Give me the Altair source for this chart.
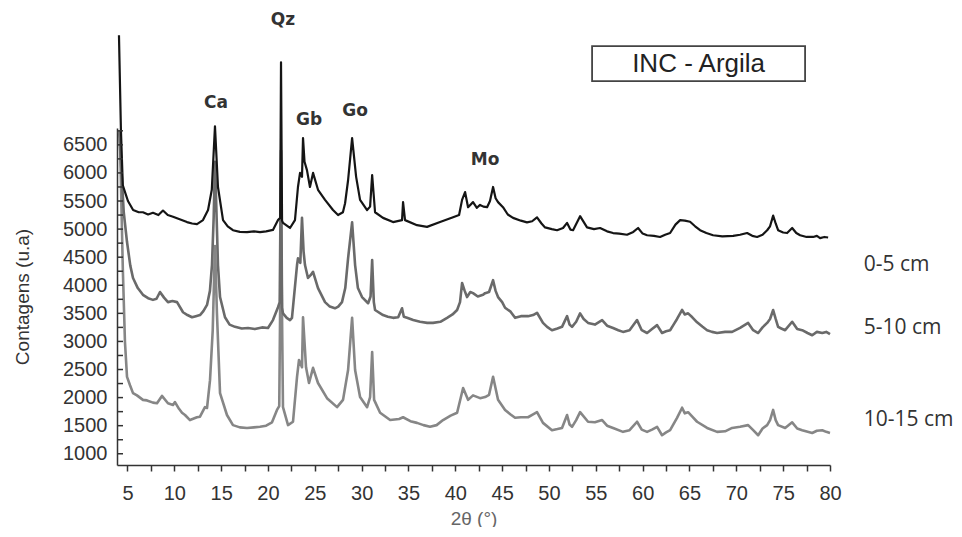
import altair as alt
import pandas as pd

# ---------------- data (2θ in degrees, counts in u.a.) ----------------
SERIES = ["0-5 cm", "5-10 cm", "10-15 cm"]
COLORS = ["#151515", "#6a6a6a", "#868686"]

trace_0_5 = [
    (4.09, 8450), (4.3, 6760), (4.5, 5780), (4.85, 5600), (5.05, 5500), (5.6, 5340),
    (6.2, 5300), (6.65, 5300), (7.2, 5260), (7.72, 5290), (8.3, 5250), (8.79, 5330),
    (9.3, 5250), (9.86, 5220), (10.5, 5180), (11.35, 5125), (11.9, 5100), (12.42, 5090),
    (13.06, 5160), (13.6, 5340), (14.0, 5700), (14.34, 6830), (14.66, 5750), (15.2, 5160),
    (15.7, 5050), (16.26, 4980), (17.0, 4950), (17.76, 4945), (18.5, 4960), (19.15, 4945),
    (19.8, 4960), (20.53, 4985), (21.07, 5160), (21.3, 5200), (21.39, 7970), (21.5, 5150),
    (21.6, 5110), (22.35, 5020), (22.88, 5160), (23.2, 5750), (23.42, 6000), (23.63, 5930),
    (23.74, 6620), (23.9, 6200), (24.16, 6050), (24.48, 5750), (24.81, 6000), (25.34, 5700),
    (26.09, 5520), (26.94, 5340), (27.48, 5250), (28.0, 5300), (28.23, 5460), (28.55, 5870),
    (28.98, 6620), (29.41, 5930), (29.83, 5520), (30.58, 5340), (30.9, 5400), (31.12, 5960),
    (31.43, 5300), (32.28, 5200), (33.35, 5125), (34.31, 5160), (34.42, 5480), (34.63, 5160),
    (35.91, 5070), (36.98, 5040), (38.37, 5125), (39.76, 5210), (40.4, 5250), (40.72, 5520),
    (41.04, 5660), (41.36, 5390), (41.89, 5480), (42.3, 5380), (42.64, 5430), (43.0, 5400),
    (43.39, 5390), (43.7, 5500), (44.03, 5750), (44.3, 5550), (44.56, 5480), (45.09, 5390),
    (45.6, 5260), (46.16, 5200), (47.0, 5150), (47.65, 5120), (48.2, 5140), (48.72, 5210),
    (49.2, 5100), (49.58, 5030), (50.3, 5000), (50.86, 4980), (51.5, 5020), (51.93, 5110),
    (52.3, 4990), (52.57, 4980), (53.32, 5230), (54.06, 5030), (54.8, 5000), (55.45, 5020),
    (56.2, 4960), (56.84, 4930), (57.5, 4920), (58.33, 4900), (59.0, 4950), (59.51, 5020),
    (60.0, 4920), (60.47, 4890), (61.2, 4880), (61.86, 4860), (62.4, 4900), (62.93, 4930),
    (63.5, 5080), (64.0, 5160), (64.5, 5150), (65.06, 5130), (65.6, 5050), (66.13, 4980),
    (66.8, 4930), (67.52, 4890), (68.5, 4870), (69.66, 4880), (70.4, 4900), (71.15, 4930),
    (71.7, 4880), (72.22, 4860), (72.8, 4900), (73.29, 4980), (73.6, 5050), (73.93, 5240),
    (74.2, 5100), (74.46, 4980), (75.0, 4940), (75.42, 4930), (75.96, 5020), (76.4, 4930),
    (76.81, 4890), (77.5, 4860), (78.2, 4860), (78.6, 4880), (78.94, 4840), (79.4, 4860),
    (79.8, 4850),
]

trace_5_10 = [
    (4.1, 6750), (4.3, 6200), (4.6, 5300), (4.95, 4770), (5.3, 4350), (5.59, 4130),
    (6.1, 3950), (6.65, 3830), (7.2, 3770), (7.72, 3740), (8.1, 3760), (8.47, 3880),
    (8.9, 3780), (9.32, 3700), (9.8, 3720), (10.29, 3700), (10.93, 3520), (11.4, 3470),
    (11.89, 3430), (12.3, 3450), (12.74, 3470), (13.1, 3540), (13.49, 3650), (13.8, 3900),
    (14.02, 4360), (14.2, 5200), (14.34, 6200), (14.5, 5300), (14.66, 4360), (14.88, 3790),
    (15.41, 3430), (15.9, 3300), (16.48, 3260), (17.2, 3230), (17.87, 3240), (18.6, 3220),
    (19.36, 3250), (20.0, 3240), (20.53, 3380), (21.07, 3610), (21.25, 3700), (21.39, 6400),
    (21.5, 3600), (21.6, 3500), (22.0, 3420), (22.35, 3380), (22.56, 3420), (23.1, 4360),
    (23.2, 4480), (23.45, 4400), (23.63, 5200), (23.8, 4600), (23.95, 4360), (24.27, 4130),
    (24.55, 4180), (24.81, 4240), (25.34, 3950), (26.09, 3700), (26.6, 3620), (27.15, 3590),
    (27.5, 3620), (27.9, 3700), (28.25, 3950), (28.55, 4480), (28.98, 5120), (29.3, 4360),
    (29.6, 3950), (30.04, 3790), (30.69, 3680), (30.95, 3800), (31.12, 4450), (31.3, 3700),
    (31.43, 3560), (32.28, 3470), (32.8, 3440), (33.35, 3420), (33.9, 3430), (34.31, 3590),
    (34.5, 3440), (34.85, 3420), (35.5, 3380), (36.23, 3350), (37.0, 3330), (37.62, 3330),
    (38.4, 3350), (39.12, 3420), (39.7, 3480), (40.19, 3560), (40.5, 3700), (40.72, 4040),
    (41.0, 3900), (41.25, 3790), (41.6, 3880), (41.89, 3860), (42.4, 3800), (42.96, 3830),
    (43.18, 3860), (43.6, 3880), (44.03, 4090), (44.3, 3900), (44.56, 3790), (45.0, 3700),
    (45.31, 3600), (45.9, 3530), (46.38, 3420), (47.0, 3450), (47.76, 3450), (48.3, 3470),
    (48.72, 3510), (49.36, 3330), (49.8, 3260), (50.32, 3200), (50.9, 3230), (51.39, 3260),
    (51.93, 3450), (52.2, 3300), (52.46, 3260), (52.9, 3350), (53.32, 3500), (53.7, 3400),
    (54.17, 3330), (54.9, 3300), (55.67, 3380), (56.2, 3280), (56.84, 3240), (57.4, 3200),
    (57.9, 3170), (58.6, 3200), (59.4, 3380), (59.9, 3200), (60.47, 3150), (61.0, 3220),
    (61.54, 3290), (62.07, 3150), (62.5, 3180), (62.93, 3200), (63.3, 3300), (63.67, 3400),
    (64.21, 3560), (64.5, 3480), (64.85, 3500), (65.3, 3430), (65.81, 3340), (66.4, 3260),
    (66.88, 3200), (67.4, 3170), (67.95, 3150), (68.8, 3170), (69.55, 3170), (70.4, 3240),
    (71.26, 3330), (71.8, 3200), (72.33, 3150), (72.8, 3250), (73.29, 3330), (73.6, 3400),
    (73.93, 3560), (74.2, 3400), (74.46, 3260), (74.8, 3230), (75.21, 3200), (75.96, 3350),
    (76.5, 3220), (77.03, 3200), (77.6, 3150), (78.1, 3110), (78.6, 3170), (79.17, 3150),
    (79.6, 3170), (80.0, 3130),
]

trace_10_15 = [
    (4.2, 6600), (4.5, 4300), (4.73, 2990), (4.95, 2370), (5.27, 2220), (5.59, 2080),
    (6.01, 2040), (6.65, 1960), (7.08, 1950), (7.72, 1910), (8.15, 1900), (8.68, 2030),
    (9.32, 1900), (9.86, 1870), (10.07, 1920), (10.5, 1800), (10.82, 1730), (11.14, 1690),
    (11.67, 1600), (12.42, 1650), (12.74, 1660), (13.27, 1830), (13.49, 1815), (13.81, 2310),
    (14.1, 3200), (14.34, 4700), (14.55, 3500), (14.88, 2080), (15.62, 1690), (16.26, 1510),
    (17.0, 1470), (17.76, 1460), (18.5, 1470), (19.15, 1480), (19.8, 1500), (20.43, 1560),
    (20.96, 1780), (21.2, 1850), (21.39, 5200), (21.6, 1830), (22.14, 1510), (22.67, 1570),
    (23.1, 2370), (23.31, 2670), (23.63, 2540), (23.74, 3430), (24.06, 2540), (24.38, 2260),
    (24.81, 2530), (25.34, 2260), (26.3, 1990), (27.37, 1830), (28.01, 1960), (28.55, 2490),
    (28.98, 3420), (29.3, 2490), (29.83, 2010), (30.58, 1830), (30.9, 2010), (31.12, 2810),
    (31.33, 1960), (31.97, 1730), (33.04, 1600), (34.0, 1620), (34.42, 1650), (35.2, 1580),
    (35.91, 1550), (36.6, 1510), (37.3, 1480), (38.0, 1510), (38.69, 1600), (39.5, 1680),
    (40.19, 1730), (40.83, 2170), (41.36, 1960), (41.89, 2040), (42.64, 1990), (43.18, 2010),
    (43.6, 2050), (44.03, 2370), (44.56, 1960), (45.31, 1780), (45.9, 1700), (46.38, 1640),
    (47.0, 1650), (47.76, 1650), (48.3, 1700), (48.72, 1740), (49.36, 1550), (50.32, 1420),
    (50.9, 1440), (51.39, 1460), (51.93, 1690), (52.2, 1520), (52.46, 1480), (52.9, 1600),
    (53.32, 1740), (54.17, 1570), (54.9, 1560), (55.67, 1600), (56.2, 1500), (56.84, 1460),
    (57.9, 1390), (58.6, 1420), (59.4, 1570), (59.9, 1430), (60.47, 1390), (61.0, 1430),
    (61.54, 1480), (62.07, 1330), (62.5, 1380), (62.93, 1420), (63.67, 1640), (64.21, 1820),
    (64.5, 1720), (64.85, 1740), (65.3, 1660), (65.81, 1570), (66.88, 1460), (67.95, 1390),
    (68.8, 1400), (69.55, 1460), (70.4, 1480), (71.26, 1510), (71.8, 1420), (72.33, 1330),
    (72.8, 1450), (73.29, 1510), (73.6, 1600), (73.93, 1780), (74.2, 1600), (74.46, 1510),
    (75.21, 1460), (75.96, 1560), (76.5, 1450), (77.03, 1420), (78.1, 1370), (78.6, 1410),
    (79.17, 1420), (79.6, 1390), (80.0, 1370),
]

x_tick_values = [5, 7.5, 10, 12.5, 15, 17.5, 20, 22.5, 25, 27.5, 30, 32.5, 35, 37.5,
                 40, 42.5, 45, 47.5, 50, 52.5, 55, 57.5, 60, 62.5, 65, 67.5, 70, 72.5,
                 75, 77.5, 80]
y_label_values = [1000, 1500, 2000, 2500, 3000, 3500, 4000, 4500, 5000, 5500, 6000, 6500]
y_minor_values = [1000, 1250, 1500, 1750, 2000, 2250, 2500, 2750, 3000, 3250, 3500, 3750,
                  4000, 4250, 4500, 4750, 5000, 5250, 5500, 5750, 6000, 6250, 6500, 6750]

peak_names = ["Ca", "Qz", "Gb", "Go", "Mo"]
peak_theta = [14.45, 21.6, 24.38, 29.3, 43.18]
peak_counts = [7244, 8721, 6941, 7101, 6229]

label_theta = [83.6, 83.6, 83.6]
label_counts = [4360, 3239, 1601]

box_title = "INC - Argila"
box_theta = [54.6, 77.34]
box_counts = [7635, 8258]
box_text_pos = (65.97, 7946)

# ---------------- chart ----------------
FONT = "Liberation Sans"

x_enc = alt.X(
    "theta:Q",
    scale=alt.Scale(domain=[3.88, 80], nice=False, zero=False),
    axis=alt.Axis(
        values=x_tick_values, format="d",
        labelExpr="datum.value % 5 === 0 ? datum.label : ''",
        labelFlush=False, labelOverlap=False,
        title="2θ (°)", grid=False,
        tickSize=6, tickWidth=1.5, tickColor="#333",
        domainColor="#333", domainWidth=1.5,
        labelFont=FONT, labelFontSize=20, labelColor="#333", labelPadding=12,
        titleFont=FONT, titleFontSize=19, titleFontWeight="normal", titleColor="#666",
        titlePadding=6,
    ),
)
y_enc = alt.Y(
    "counts:Q",
    scale=alt.Scale(domain=[800, 6800], nice=False, zero=False),
    axis=alt.Axis(
        values=y_label_values, format="d", ticks=False, grid=False,
        labelFlush=False, labelOverlap=False,
        title="Contagens (u.a)",
        domainColor="#333", domainWidth=1.5,
        labelFont=FONT, labelFontSize=20, labelColor="#333", labelPadding=10,
        titleFont=FONT, titleFontSize=19, titleFontWeight="normal", titleColor="#333",
        titlePadding=30,
    ),
)

layers = []
traces = [trace_0_5, trace_5_10, trace_10_15]
widths = [2.2, 2.6, 2.6]
for name, tr, col, w in reversed(list(zip(SERIES, traces, COLORS, widths))):
    d = pd.DataFrame(tr, columns=["theta", "counts"])
    layers.append(
        alt.Chart(d).mark_line(color=col, strokeWidth=w, strokeJoin="round").encode(x=x_enc, y=y_enc)
    )

ticks_df = pd.DataFrame({"counts": y_minor_values})
y_ticks = alt.Chart(ticks_df).mark_rule(color="#333", strokeWidth=1.5).encode(
    y=y_enc, x=alt.value(0), x2=alt.value(6)
)

peaks_df = pd.DataFrame({"theta": peak_theta, "counts": peak_counts, "label": peak_names})
peaks = alt.Chart(peaks_df).mark_text(
    font="DejaVu Sans", fontSize=17, fontWeight="bold", color="#333",
    align="center", baseline="middle",
).encode(x=x_enc, y=y_enc, text="label:N")

lab_df = pd.DataFrame({"theta": label_theta, "counts": label_counts, "label": SERIES})
labels = alt.Chart(lab_df).mark_text(
    font="Open Sans", fontSize=21, color="#333", align="left", baseline="middle",
).encode(x=x_enc, y=y_enc, text="label:N")

box_df = pd.DataFrame({"theta": [box_theta[0]], "theta2": [box_theta[1]],
                       "counts": [box_counts[0]], "counts2": [box_counts[1]]})
box = alt.Chart(box_df).mark_rect(fill="white", stroke="#444", strokeWidth=1.8).encode(
    x=x_enc, x2="theta2:Q", y=y_enc, y2="counts2:Q"
)
box_txt_df = pd.DataFrame({"theta": [box_text_pos[0]], "counts": [box_text_pos[1]], "label": [box_title]})
box_txt = alt.Chart(box_txt_df).mark_text(
    font=FONT, fontSize=26, color="#222", align="center", baseline="middle",
).encode(x=x_enc, y=y_enc, text="label:N")

chart = alt.layer(*layers, y_ticks, peaks, labels, box, box_txt).properties(
    width=713, height=337,
    autosize=alt.AutoSizeParams(type="none"),
    padding={"left": 109, "top": 120, "right": 124, "bottom": 62},
    background="white",
).configure_view(stroke=None)

chart.save("out.html", embed_options={"renderer": "svg", "actions": False})
